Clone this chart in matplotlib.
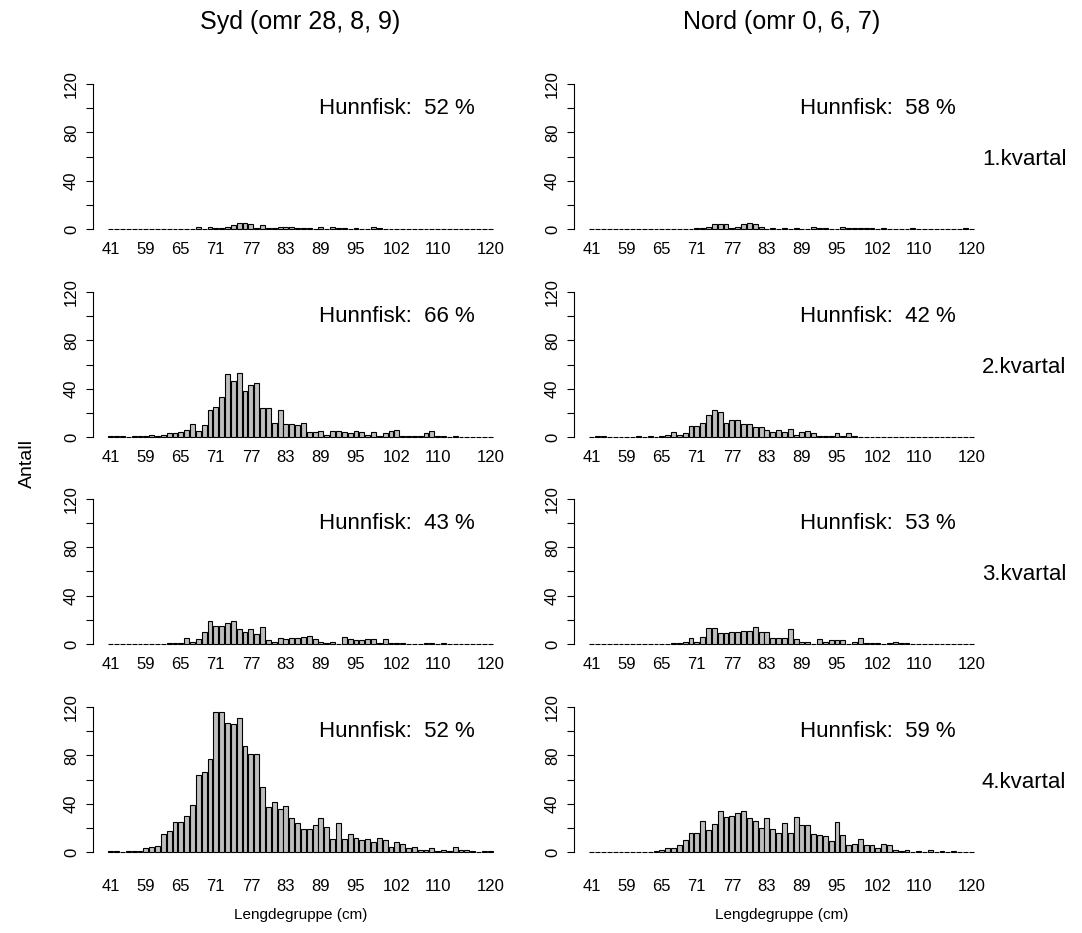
import matplotlib
matplotlib.use("Agg")
import matplotlib.pyplot as plt
import numpy as np

plt.rcParams["font.family"] = ["Liberation Sans", "DejaVu Sans"]

# length groups (cm), one bar each
lengths = [41, 48, 52, 55, 57, 58] + list(range(59, 109)) + [110] + list(range(111, 119)) + [120]
shown_labels = [41, 59, 65, 71, 77, 83, 89, 95, 102, 110, 120]

# counts per length group, Syd (omr 28, 8, 9)
syd_q1 = [0, 0, 0, 0, 0, 0, 0, 0, 0, 0, 0,
          0, 0, 0, 0, 2, 0, 2, 1, 1, 2, 3,
          5, 5, 4, 1, 3, 1, 1, 2, 2, 2, 1,
          1, 1, 0, 2, 0, 2, 1, 1, 0, 1, 0,
          0, 2, 1, 0, 0, 0, 0, 0, 0, 0, 0,
          0, 0, 0, 0, 0, 0, 0, 0, 0, 0, 0]
syd_q2 = [1, 1, 1, 0, 1, 1, 1, 2, 1, 2, 3,
          3, 4, 6, 11, 5, 10, 22, 25, 33, 52, 46,
          53, 38, 43, 45, 24, 24, 12, 22, 11, 11, 10,
          12, 4, 4, 5, 2, 5, 5, 4, 3, 5, 4,
          2, 4, 1, 3, 5, 6, 1, 1, 1, 1, 3,
          5, 1, 1, 0, 1, 0, 0, 0, 0, 0, 0]
syd_q3 = [0, 0, 0, 0, 0, 0, 0, 0, 0, 0, 1,
          1, 1, 5, 2, 4, 10, 19, 15, 15, 17, 19,
          12, 10, 12, 8, 14, 3, 2, 5, 4, 5, 5,
          6, 7, 4, 2, 1, 2, 0, 6, 4, 3, 3,
          4, 4, 1, 4, 1, 1, 1, 0, 0, 0, 1,
          1, 0, 1, 0, 0, 0, 0, 0, 0, 0, 0]
syd_q4 = [1, 1, 0, 1, 1, 1, 3, 4, 5, 15, 17,
          25, 25, 30, 39, 64, 66, 77, 116, 116, 107, 106,
          111, 88, 81, 81, 54, 37, 41, 36, 38, 28, 24,
          19, 19, 22, 28, 21, 11, 24, 11, 15, 12, 10,
          11, 8, 12, 10, 4, 8, 7, 3, 4, 2, 2,
          3, 1, 2, 1, 4, 2, 2, 1, 0, 1, 1]

# counts per length group, Nord (omr 0, 6, 7)
nord_q1 = [0, 0, 0, 0, 0, 0, 0, 0, 0, 0, 0,
           0, 0, 0, 0, 0, 0, 0, 1, 1, 2, 4,
           4, 4, 1, 2, 4, 5, 4, 2, 0, 1, 0,
           1, 0, 1, 0, 0, 2, 1, 1, 0, 0, 2,
           1, 1, 1, 1, 1, 0, 1, 0, 0, 0, 0,
           1, 0, 0, 0, 0, 0, 0, 0, 0, 1, 0]
nord_q2 = [0, 1, 1, 0, 0, 0, 0, 0, 1, 0, 1,
           0, 1, 2, 4, 2, 3, 9, 9, 12, 18, 22,
           21, 12, 14, 14, 11, 11, 8, 8, 6, 4, 6,
           4, 7, 2, 4, 5, 3, 1, 1, 1, 3, 1,
           3, 1, 0, 0, 0, 0, 0, 0, 0, 0, 0,
           0, 0, 0, 0, 0, 0, 0, 0, 0, 0, 0]
nord_q3 = [0, 0, 0, 0, 0, 0, 0, 0, 0, 0, 0,
           0, 0, 0, 1, 1, 2, 5, 2, 6, 13, 13,
           9, 9, 10, 10, 11, 11, 14, 10, 10, 5, 5,
           5, 12, 4, 2, 2, 0, 4, 2, 3, 3, 3,
           0, 2, 5, 1, 1, 1, 0, 1, 2, 1, 1,
           0, 0, 0, 0, 0, 0, 0, 0, 0, 0, 0]
nord_q4 = [0, 0, 0, 0, 0, 0, 0, 0, 0, 0, 0,
           1, 2, 3, 3, 6, 10, 16, 16, 26, 18, 23,
           34, 29, 30, 32, 34, 28, 26, 20, 28, 19, 16,
           24, 16, 29, 22, 22, 15, 14, 13, 9, 25, 14,
           6, 7, 11, 6, 6, 3, 7, 6, 2, 1, 2,
           0, 1, 0, 2, 0, 1, 0, 1, 0, 0, 0]

syd_pct = [52, 66, 43, 52]
nord_pct = [58, 42, 53, 59]
quarters = ["1.kvartal", "2.kvartal", "3.kvartal", "4.kvartal"]
regions = ["Syd (omr 28, 8, 9)", "Nord (omr 0, 6, 7)"]

columns = [
    (regions[0], [syd_q1, syd_q2, syd_q3, syd_q4], syd_pct),
    (regions[1], [nord_q1, nord_q2, nord_q3, nord_q4], nord_pct),
]

W, H = 1082, 933
fig = plt.figure(figsize=(W / 100, H / 100), dpi=100)

# R barplot geometry: width 1, space 0.2
n = len(lengths)
xpos = 0.2 + 1.2 * np.arange(n) + 0.5
xlo, xhi = 0.2, 1.2 * n
pad_x = 0.04 * (xhi - xlo)
ylo, yhi = 0, 120
pad_y = 0.04 * (yhi - ylo)

col_left = [93, 574]
panel_w = 415
row_bottom = [234.8, 442.8, 649.8, 857.8]
panel_h = 156.6

tick_pos = [xpos[lengths.index(v)] for v in shown_labels]

for c, (region, series, pcts) in enumerate(columns):
    for r in range(4):
        ax = fig.add_axes([col_left[c] / W, 1 - row_bottom[r] / H, panel_w / W, panel_h / H])
        ax.bar(xpos, series[r], width=1.0, color="#bebebe", edgecolor="black", linewidth=0.8)
        ax.set_xlim(xlo - pad_x, xhi + pad_x)
        ax.set_ylim(ylo - pad_y, yhi + pad_y)
        for s in ["top", "right", "bottom"]:
            ax.spines[s].set_visible(False)
        ax.spines["left"].set_bounds(0, 120)
        ax.spines["left"].set_linewidth(0.8)
        ax.set_yticks(range(0, 121, 20))
        ax.set_yticklabels(["0", "", "40", "", "80", "", "120"], rotation=90, va="center")
        ax.tick_params(axis="y", length=5, width=0.8, pad=5, labelsize=12)
        ax.set_xticks(tick_pos)
        ax.set_xticklabels([str(v) for v in shown_labels])
        ax.tick_params(axis="x", length=0, pad=15 if r == 3 else 5, labelsize=12)
        ax.text(0.733, (100 + pad_y) / (yhi - ylo + 2 * pad_y), f"Hunnfisk:  {pcts[r]} %",
                transform=ax.transAxes, ha="center", va="center", fontsize=16)
        if c == 1:
            fig.text(982 / W, 1 - (row_bottom[r] - panel_h / 2 + 3) / H, quarters[r],
                     ha="left", va="center", fontsize=16)
    cx = (col_left[c] + panel_w / 2) / W
    fig.text(cx, 1 - 22 / H, region, ha="center", va="center", fontsize=18)
    fig.text(cx, 1 - 915 / H, "Lengdegruppe (cm)", ha="center", va="center", fontsize=11)

fig.text(27 / W, 1 - 463 / H, "Antall", rotation=90, ha="center", va="center", fontsize=14)

fig.savefig("out.png", dpi=100)
